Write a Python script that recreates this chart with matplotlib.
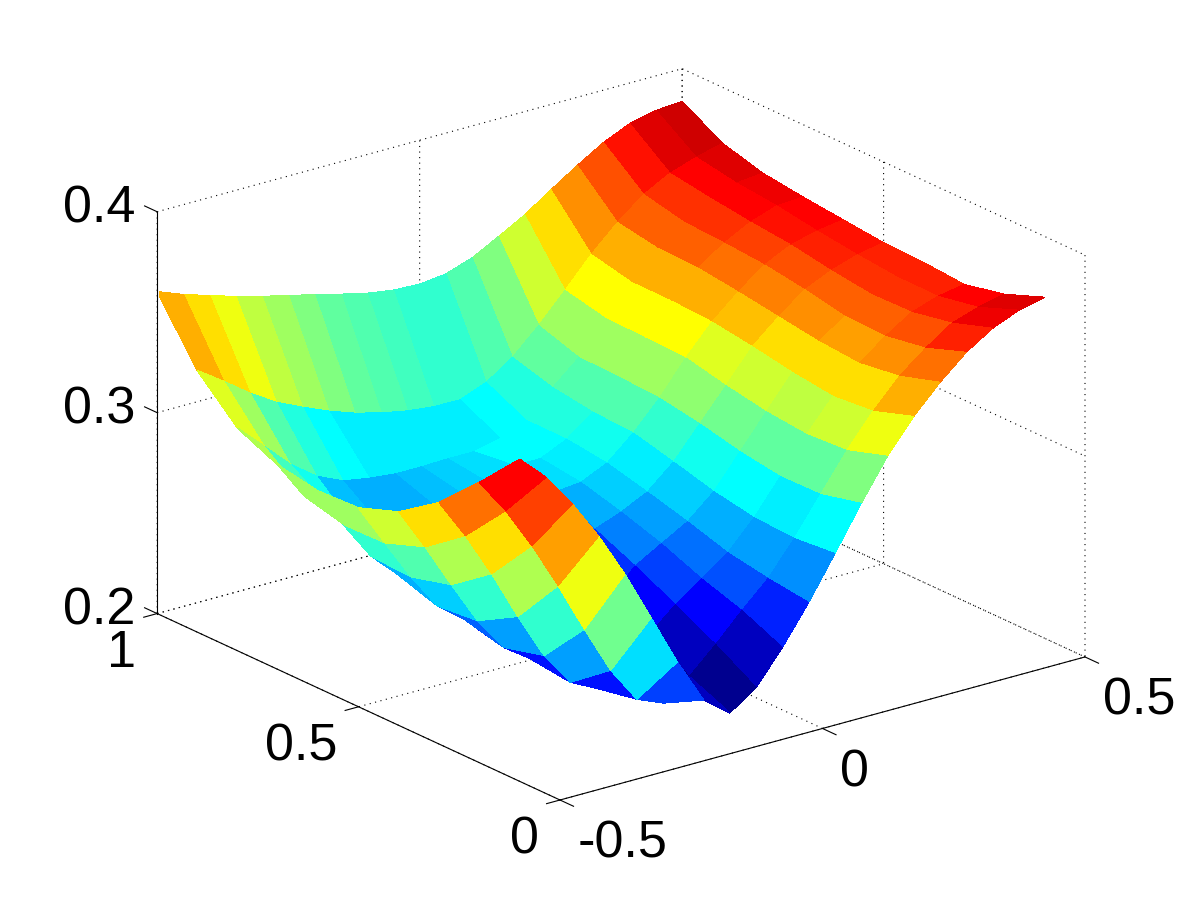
import numpy as np
import matplotlib
matplotlib.use("Agg")
import matplotlib.pyplot as plt
from matplotlib.colors import ListedColormap
from matplotlib.transforms import ScaledTranslation
from mpl_toolkits.mplot3d import proj3d

x_values = [-0.5, -0.45, -0.4, -0.35, -0.3, -0.25, -0.2, -0.15, -0.1, -0.05, 0.0,
            0.05, 0.1, 0.15, 0.2, 0.25, 0.3, 0.35, 0.4, 0.45, 0.5]
y_values = [0.1, 0.2, 0.3, 0.4, 0.5, 0.6, 0.7, 0.8, 0.9, 1.0]
# one row per x value, one column per y value
z_values = [
    [.3603,.3395,.3202,.3063,.2990,.2981,.3017,.3108,.3302,.3602],
    [.3478,.3220,.3003,.2854,.2781,.2777,.2828,.2983,.3213,.3552],
    [.3309,.3011,.2778,.2630,.2576,.2587,.2723,.2857,.3118,.3511],
    [.3114,.2776,.2529,.2415,.2396,.2462,.2582,.2762,.3037,.3471],
    [.2889,.2523,.2299,.2246,.2296,.2402,.2557,.2703,.2977,.3436],
    [.2636,.2283,.2130,.2155,.2166,.2322,.2571,.2680,.2922,.3405],
    [.2381,.2103,.2064,.2085,.2117,.2351,.2596,.2666,.2876,.3373],
    [.2156,.2048,.2119,.2159,.2226,.2451,.2625,.2666,.2842,.3340],
    [.2056,.2143,.2257,.2339,.2468,.2599,.2645,.2670,.2816,.3309],
    [.2146,.2266,.2372,.2472,.2562,.2654,.2694,.2670,.2801,.3289],
    [.2310,.2400,.2465,.2547,.2612,.2667,.2693,.2700,.2800,.3283],
    [.2498,.2524,.2559,.2621,.2676,.2727,.2753,.2754,.2850,.3298],
    [.2706,.2687,.2698,.2735,.2790,.2841,.2852,.2882,.2939,.3343],
    [.2920,.2871,.2867,.2898,.2944,.2979,.2990,.2996,.3062,.3412],
    [.3119,.3054,.3041,.3061,.3098,.3144,.3150,.3156,.3201,.3485],
    [.3282,.3214,.3195,.3221,.3257,.3287,.3298,.3299,.3345,.3574],
    [.3416,.3353,.3324,.3340,.3370,.3401,.3427,.3433,.3468,.3659],
    [.3530,.3457,.3423,.3429,.3469,.3500,.3516,.3527,.3572,.3738],
    [.3614,.3546,.3507,.3503,.3529,.3564,.3585,.3611,.3642,.3797],
    [.3668,.3589,.3551,.3552,.3572,.3598,.3630,.3651,.3686,.3827],
    [.3697,.3619,.3575,.3591,.3597,.3618,.3639,.3665,.3721,.3836],
]
x_ticks = [-0.5, 0, 0.5]
x_ticklabels = ["-0.5", "0", "0.5"]
y_ticks = [0, 0.5, 1]
y_ticklabels = ["0", "0.5", "1"]
z_ticks = [0.2, 0.3, 0.4]
z_ticklabels = ["0.2", "0.3", "0.4"]

plt.rcParams["font.family"] = ["Liberation Sans", "DejaVu Sans"]
W, H = 1200, 900
fig = plt.figure(figsize=(W / 100, H / 100), dpi=100, facecolor="white")
ax = fig.add_axes([0, 0, 1, 1], projection="3d")
ax.set_proj_type("ortho")
ax.view_init(elev=20.8, azim=-127.5)
aspect = (662, 662, 430)
ax.set_box_aspect(aspect)

# MATLAB's 64-level jet
t = (np.arange(64) + 1) / 64
jet64 = ListedColormap(np.clip(np.stack([1.5 - np.abs(4 * t - 3),
                                         1.5 - np.abs(4 * t - 2),
                                         1.5 - np.abs(4 * t - 1)], axis=1), 0, 1))

X, Y = np.meshgrid(x_values, y_values)
Z = np.array(z_values).T
norm = plt.Normalize(Z.min(), Z.max())
ax.plot_surface(X, Y, Z, rstride=1, cstride=1, facecolors=jet64(norm(Z)),
                shade=False, linewidth=0.25, antialiased=False)
# solid z axis on the left back edge
ax.plot([x_ticks[0]] * 2, [y_ticks[-1]] * 2, [z_ticks[0], z_ticks[-1]],
        color="black", linewidth=0.8, zorder=0)

ax.set_xlim(-0.5, 0.5, view_margin=0)
ax.set_ylim(0, 1, view_margin=0)
ax.set_zlim(0.2, 0.4, view_margin=0)
ax.set_xticks(x_ticks, x_ticklabels)
ax.set_yticks(y_ticks, y_ticklabels)
ax.set_zticks(z_ticks, z_ticklabels)
ax.tick_params(axis="both", labelsize=37.5, colors="black", pad=0)
ax.tick_params(axis="z", labelsize=37.5, colors="black", pad=0)

for axis, tick_in, tick_out in ((ax.xaxis, 0.42, 0.0), (ax.yaxis, 0.32, 0.0), (ax.zaxis, 0.0, 0.39)):
    axis.set_pane_color((1, 1, 1, 0))
    axis.pane.set_edgecolor("none")
    axis.line.set_color("black")
    axis.line.set_linewidth(0.8)
    axis._axinfo["grid"].update(color="black", linewidth=0.8, linestyle=(0, (1, 4)))
    axis._axinfo["tick"].update(inward_factor=tick_in, outward_factor=tick_out)
    axis._axinfo["tick"]["linewidth"] = {True: 0.8, False: 0.8}
    axis._axinfo["tick"]["color"] = "black"
# z ticks run along the y direction, as in the reference
ax.zaxis._get_tickdir = lambda position: 1

for lab in ax.get_xticklabels():
    lab.set(ha="left", va="top")
for lab in ax.get_yticklabels():
    lab.set(ha="right", va="top")
for lab in ax.get_zticklabels():
    lab.set(ha="right", va="center")


def nudge(axis, dx_px, dy_px):
    """Shift an axis's tick labels by a few pixels after mplot3d places them."""
    original = axis.get_major_ticks
    offset = ScaledTranslation(dx_px / 100, dy_px / 100, fig.dpi_scale_trans)

    def get_major_ticks(numticks=None):
        ticks = original(numticks)
        for tick in ticks:
            tick.label1.set_transform(ax.transData + offset)
        return ticks

    axis.get_major_ticks = get_major_ticks


nudge(ax.xaxis, 8, -6)
nudge(ax.yaxis, -9, -3)
nudge(ax.zaxis, 0, 2)


def corner_px(px, py, pz):
    fig.canvas.draw()
    a, b, _ = proj3d.proj_transform(px, py, pz, ax.get_proj())
    u, v = ax.transData.transform((a, b))
    return u, H - v


# fit the box to the frame seen in the reference
u0, _ = corner_px(-0.5, 0, 0.2)
u1, _ = corner_px(0.5, 0, 0.2)
ax.set_box_aspect(aspect, zoom=(1085 - 560) / (u1 - u0))
u, v = corner_px(-0.5, 0, 0.2)
ax.set_position([(560 - u) / W, (v - 800) / H, 1, 1])

fig.savefig("out.png", dpi=100)
